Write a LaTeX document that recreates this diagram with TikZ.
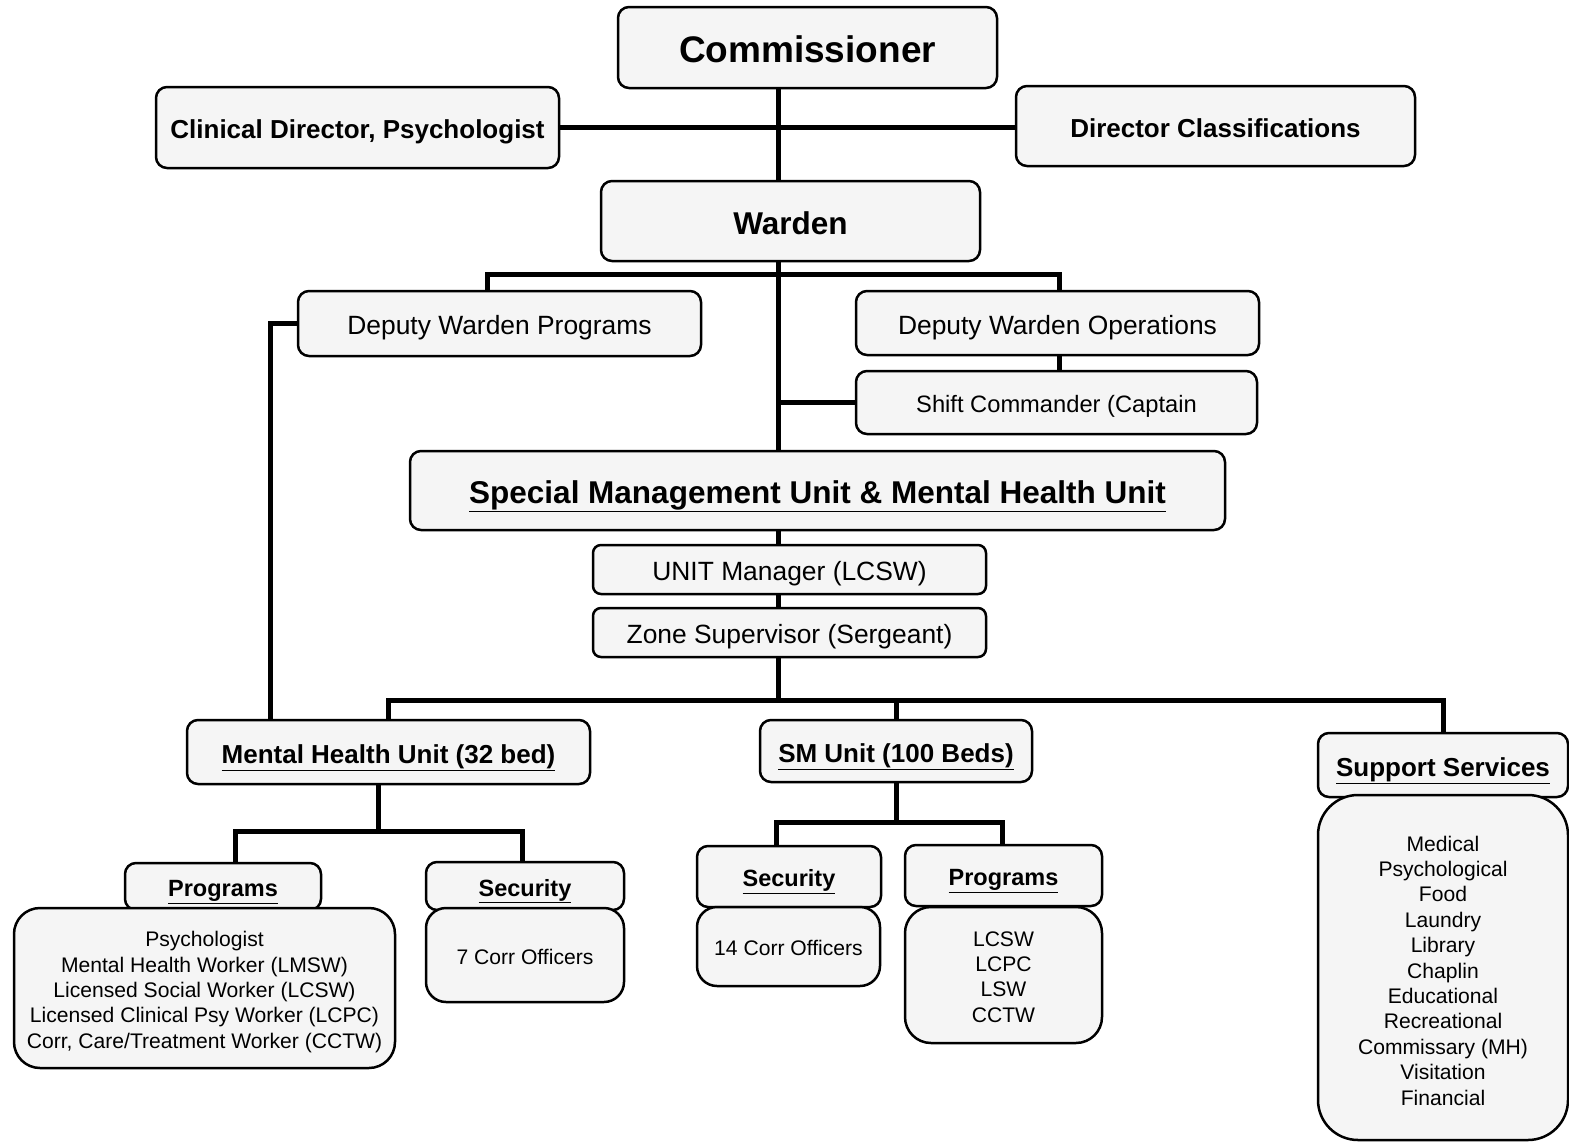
\documentclass[tikz,border=0pt]{standalone}
\usepackage{fontspec}
\setmainfont{Liberation Sans}
\begin{document}
\begin{tikzpicture}[x=1pt,y=-1pt,
  box/.style={draw, line width=2.5pt, rounded corners=11pt, fill=black!4, inner sep=0pt, align=center},
  listbox/.style={box, rounded corners=26pt},
  listtext/.style={inner sep=0pt, align=center, font=\fontsize{21.1}{25.4}\selectfont},
  conn/.style={line width=5pt, line cap=rect},
  fA/.style={font=\fontsize{37}{44}\selectfont\bfseries, text height=30pt, text depth=0pt},
  fB/.style={font=\fontsize{26}{31}\selectfont\bfseries, text height=22pt, text depth=0pt},
  fW/.style={font=\fontsize{31.5}{38}\selectfont\bfseries, text height=26pt, text depth=0pt},
  fR/.style={font=\fontsize{26.4}{31}\selectfont, text height=22.4pt, text depth=0pt},
  fS/.style={font=\fontsize{23.7}{28}\selectfont, text height=20.5pt, text depth=0pt},
  fP/.style={font=\fontsize{23.5}{28}\selectfont\bfseries, text height=20.3pt, text depth=0pt},
  fL/.style={font=\fontsize{21.1}{25.4}\selectfont, text height=18.6pt, text depth=0pt},
]
\useasboundingbox (0,0) rectangle (1569,1143);

% nodes
\node[box, fA, minimum width=379, minimum height=81] (comm) at (807.5,47.5) {Commissioner};
\node[box, fB, minimum width=403, minimum height=81] (clin) at (357.5,127.5) {Clinical Director, Psychologist};
\node[box, fB, minimum width=399, minimum height=80] (dir) at (1215.5,126) {Director Classifications};
\node[box, fW, minimum width=379, minimum height=80] (warden) at (790.5,221) {Warden};
\node[box, fR, minimum width=403, minimum height=65] (dwp) at (499.5,323.5) {Deputy Warden Programs};
\node[box, fR, minimum width=403, minimum height=64] (dwo) at (1057.5,323) {Deputy Warden Operations};
\node[box, fS, minimum width=401, minimum height=63] (shift) at (1056.5,402.5) {Shift Commander (Captain};
\node[box, fW, minimum width=815, minimum height=79] (smu) at (817.5,490.5) {\underline{Special Management Unit \& Mental Health Unit}};
\node[box, fR, minimum width=393, minimum height=49, rounded corners=8pt] (unit) at (789.5,569.5) {UNIT Manager (LCSW)};
\node[box, fR, minimum width=393, minimum height=49, rounded corners=8pt] (zone) at (789.5,632.5) {Zone Supervisor (Sergeant)};
\node[box, fB, minimum width=403, minimum height=64] (mhu) at (388.5,752) {\underline{Mental Health Unit (32 bed)}};
\node[box, fB, minimum width=272, minimum height=62] (smunit) at (896,751) {\underline{SM Unit (100 Beds)}};
\node[box, fB, minimum width=250, minimum height=64] (sup) at (1443,765) {\underline{Support Services}};
\node[listbox, rounded corners=40pt, minimum width=250, minimum height=345] (suplist) at (1443,967.5) {};
\node[listtext] (suplistT) at ([yshift=-3pt]suplist.center) {Medical\\Psychological\\Food\\Laundry\\Library\\Chaplin\\Educational\\Recreational\\Commissary (MH)\\Visitation\\Financial};
\node[box, fP, minimum width=196, minimum height=47] (progL) at (223,886.5) {\underline{Programs}};
\node[listbox, minimum width=381, minimum height=160] (listL) at (204.5,988) {};
\node[listtext] (listLT) at ([yshift=-4pt]listL.center) {Psychologist\\Mental Health Worker (LMSW)\\Licensed Social Worker (LCSW)\\Licensed Clinical Psy Worker (LCPC)\\Corr, Care/Treatment Worker (CCTW)};
\node[box, fP, minimum width=198, minimum height=48] (secL) at (525,886) {\underline{Security}};
\node[listbox, fL, rounded corners=20pt, minimum width=198, minimum height=94] (offL) at (525,955) {7 Corr Officers};
\node[box, fP, minimum width=184, minimum height=61] (secM) at (789,876.5) {\underline{Security}};
\node[listbox, fL, rounded corners=20pt, minimum width=183, minimum height=79] (offM) at (788.5,946.5) {14 Corr Officers};
\node[box, fP, minimum width=197, minimum height=61] (progM) at (1003.5,875.5) {\underline{Programs}};
\node[listbox, minimum width=197, minimum height=136] (listM) at (1003.5,975) {};
\node[listtext] (listMT) at ([yshift=-2pt]listM.center) {LCSW\\LCPC\\LSW\\CCTW};

% junction coordinates
\coordinate (spine) at (778,0);
\coordinate (dwpJ) at (487,274);
\coordinate (dwoJ) at (1059,274);
\coordinate (mhL) at (270,0);
\coordinate (bus) at (0,700);
\coordinate (mhJ) at (378,831);
\coordinate (mhA) at (235,831);
\coordinate (mhB) at (522,831);
\coordinate (smJ) at (896,822);
\coordinate (smA) at (776,822);
\coordinate (smB) at (1002,822);

% connectors
\draw[conn] (comm.south -| spine) -- (warden.north -| spine);
\draw[conn] (clin.east) -- (clin.east -| dir.west);
\draw[conn] (warden.south -| spine) -- (smu.north -| spine);
\draw[conn] (dwp.north -| dwpJ) -- (dwpJ) -- (dwoJ) -- (dwo.north -| dwoJ);
\draw[conn] (dwo.south -| dwoJ) -- (shift.north -| dwoJ);
\draw[conn] (shift.west) -- (shift.west -| spine);
\draw[conn] (dwp.west) -- (dwp.west -| mhL) -- (mhu.north -| mhL);
\draw[conn] (smu.south -| spine) -- (unit.north -| spine);
\draw[conn] (unit.south -| spine) -- (zone.north -| spine);
\draw[conn] (zone.south -| spine) -- (spine |- bus);
\draw[conn] (mhu.north) -- (mhu.north |- bus) -- (sup.north |- bus) -- (sup.north);
\draw[conn] (smunit.north) -- (smunit.north |- bus);
\draw[conn] (mhu.south -| mhJ) -- (mhJ);
\draw[conn] (progL.north -| mhA) -- (mhA) -- (mhB) -- (secL.north -| mhB);
\draw[conn] (smunit.south -| smJ) -- (smJ);
\draw[conn] (secM.north -| smA) -- (smA) -- (smB) -- (progM.north -| smB);
\end{tikzpicture}
\end{document}
